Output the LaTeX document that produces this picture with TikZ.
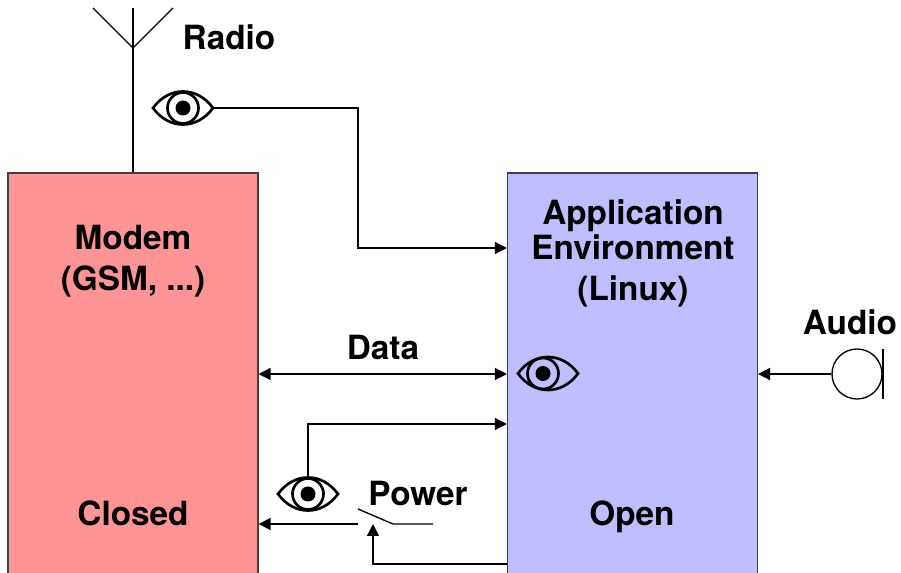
\documentclass[tikz,border=0pt]{standalone}
\usepackage{fontspec}
\setmainfont{TeX Gyre Heros}
\usepackage{xcolor}
\usepackage{tikz}
\usetikzlibrary{positioning, shapes}
\usetikzlibrary{arrows.meta}
\definecolor{modemred}{RGB}{255,148,148}
\definecolor{appblue}{RGB}{191,191,255}

\begin{document}
\begin{tikzpicture}[x=0.75pt,y=-0.75pt]
                \tikzset{wire/.style = {line width=1pt}}
                \tikzset{bigedge/.style = {wire, -{Triangle[length=9pt,width=9pt]}}}
                \tikzset{bothedge/.style = {wire, {Triangle[length=9pt,width=9pt]}-{Triangle[length=9pt,width=9pt]}}}
                \tikzset{chip/.style = {draw=black!75, line width=0.8pt, minimum width=187.5pt, minimum height=375pt, inner sep=0pt}}
                \tikzset{lbl/.style = {font=\fontsize{25}{28}\selectfont\bfseries, inner sep=0pt, anchor=base, yshift=-1.1pt}}
                \tikzset{eyebox/.style = {minimum width=46.5pt, minimum height=25.5pt, inner sep=0pt}}
                \tikzset{pics/eye/.style = {code={
                    \draw[line width=2pt] (-30,0) .. controls (-14,-22) and (14,-22) .. (30,0) .. controls (14,22) and (-14,22) .. (-30,0) -- cycle;
                    \draw[line width=2pt] (#1,0) circle (15.5);
                    \fill (#1,0) circle (7.5);
                }}}
                \tikzset{pics/eye/.default=0}

                \path[use as bounding box, clip] (0,0) rectangle (901,573);

                \node[chip, fill=modemred] (modem) at (133,423) {};
                \node[chip, fill=appblue] (appenv) at (632.5,423) {};

                \node[lbl] (lradio) at (229,48) {Radio};
                \node[lbl] (lmodem) at (133,248) {Modem};
                \node[lbl] (lgsm) at (133,289) {(GSM, ...)};
                \node[lbl] (lclosed) at (133,524) {Closed};
                \node[lbl] (lapp) at (633,223) {Application};
                \node[lbl] (lenv) at (633,258) {Environment};
                \node[lbl] (llinux) at (633,299) {(Linux)};
                \node[lbl] (lopen) at (632,524) {Open};
                \node[lbl] (ldata) at (383,358) {Data};
                \node[lbl] (laudio) at (850,333) {Audio};
                \node[lbl] (lpower) at (418,504) {Power};

                \node[eyebox] (eyeradio) at (183,108) {};
                \node[eyebox] (eyedata) at (548,373.5) {};
                \node[eyebox] (eyepower) at (308,494) {};
                \pic at (eyeradio) {eye};
                \pic at (eyedata) {eye=-5};
                \pic at (eyepower) {eye};

                % antenna
                \coordinate (mast) at (133,8);
                \coordinate (apex) at (133,48);
                \coordinate (armleft) at (93,8);
                \coordinate (armright) at (173,8);
                \draw[wire] (modem.north -| mast) -- (mast);
                \draw[wire] (armleft) -- (apex) -- (armright);

                % arrows
                \coordinate (bendradio) at (358,248);
                \draw[bigedge] (eyeradio.east) -| (bendradio) -- (appenv.west |- bendradio);

                \coordinate (dataline) at (383,374);
                \draw[bothedge] (modem.east |- dataline) -- (appenv.west |- dataline);

                \coordinate (bendpower) at (308,424);
                \draw[bigedge] (eyepower.north) -- (bendpower) -- (appenv.west |- bendpower);

                % switch
                \coordinate (swout) at (358,524);
                \coordinate (swtop) at (358,509);
                \coordinate (swhinge) at (393,524);
                \coordinate (swend) at (433,524);
                \coordinate (swfeed) at (373,564);
                \coordinate (swtip) at (373,524);
                \draw[bigedge] (swout) -- (modem.east |- swout);
                \draw[wire] (swtop) -- (swhinge) -- (swend);
                \draw[bigedge] (appenv.west |- swfeed) -- (swfeed) -- (swtip);

                % microphone
                \node[draw, circle, line width=1pt, minimum size=37.5pt, inner sep=0pt] (mic) at (857,374) {};
                \coordinate (bartop) at (883,349);
                \coordinate (barbot) at (883,399);
                \draw[wire] (bartop) -- (barbot);
                \draw[bigedge] (mic.west) -- (appenv.east |- mic);

\end{tikzpicture}
\end{document}
